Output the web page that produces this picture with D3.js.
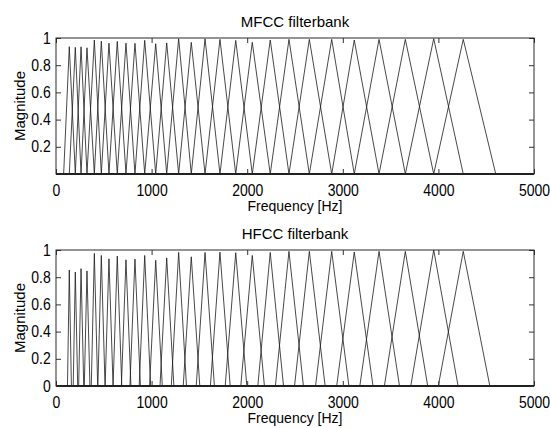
<!DOCTYPE html>
<html>
<head>
<meta charset="utf-8">
<script src="https://cdn.jsdelivr.net/npm/d3@7"></script>
<style>
    body { margin: 0; background: #fff; }
    text { font-family: "Liberation Sans", Arial, sans-serif; fill: #000; }
</style>
</head>
<body>
<div id="chart"></div>
<script>
const freqTicks = [0, 1000, 2000, 3000, 4000, 5000];
const magTicksTop = [0.2, 0.4, 0.6, 0.8, 1];
const magTicksBottom = [0, 0.2, 0.4, 0.6, 0.8, 1];

// peak (centre) frequency of each triangular filter, Hz
const centerFreqs = [139, 202, 262, 324, 401, 474, 554, 641, 732, 826, 928, 1043, 1158, 1283,
    1415, 1559, 1715, 1880, 2053, 2241, 2437, 2650, 2884, 3120, 3379, 3654, 3951, 4260];

// MFCC: feet of each filter and its sampled peak height
const mfccLow = [80, 139, 202, 262, 324, 401, 474, 554, 641, 732, 826, 928, 1043, 1158,
    1283, 1415, 1559, 1715, 1880, 2053, 2241, 2437, 2650, 2884, 3120, 3379, 3654, 3951];
const mfccHigh = [202, 262, 324, 401, 474, 554, 641, 732, 826, 928, 1043, 1158, 1283, 1415,
    1559, 1715, 1880, 2053, 2241, 2437, 2650, 2884, 3120, 3379, 3654, 3951, 4260, 4600];
const mfccPeak = [0.936, 0.931, 0.935, 0.928, 0.985, 0.977, 0.962, 0.975, 0.962, 0.961, 0.983, 0.958, 0.964, 0.995,
    0.968, 0.994, 0.99, 0.982, 0.968, 0.985, 0.99, 0.99, 0.99, 0.985, 0.99, 0.99, 0.995, 0.99];

// HFCC: narrower (ERB wide) filters on the same centres
const hfccLow = [120, 180, 237, 296, 369, 438, 514, 597, 684, 773, 870, 979, 1088, 1206,
    1331, 1467, 1615, 1770, 1933, 2111, 2295, 2495, 2715, 2936, 3178, 3435, 3711, 3999];
const hfccHigh = [161, 227, 290, 355, 436, 513, 597, 688, 784, 883, 990, 1112, 1233, 1365,
    1504, 1657, 1822, 1996, 2180, 2380, 2588, 2815, 3064, 3316, 3593, 3888, 4206, 4538];
const hfccPeak = [0.853, 0.838, 0.863, 0.846, 0.975, 0.96, 0.935, 0.955, 0.928, 0.933, 0.96, 0.924, 0.942, 0.982,
    0.95, 0.982, 0.984, 0.98, 0.96, 0.982, 0.99, 0.99, 0.99, 0.985, 0.99, 0.99, 1.0, 0.99];

const svg = d3.select("#chart").append("svg")
    .attr("width", 550)
    .attr("height", 428);

function drawPanel(top, title, low, high, peaks, magTicks) {
    const left = 56, width = 478, height = 136;

    const x = d3.scaleLinear().domain([0, 5000]).range([0, width]);
    const y = d3.scaleLinear().domain([0, 1]).range([height, 0]);

    const g = svg.append("g")
        .attr("transform", `translate(${left}, ${top})`);

    // filters, each one plotted across the whole frequency range
    const line = d3.line()
        .x(d => x(d[0]))
        .y(d => y(d[1]));

    centerFreqs.forEach((fc, i) => {
        const pts = [[0, 0], [low[i], 0], [fc, peaks[i]], [high[i], 0], [5000, 0]];
        g.append("path")
            .datum(pts)
            .attr("fill", "none")
            .attr("stroke", "#1a1a1a")
            .attr("stroke-width", 0.8)
            .attr("d", line);
    });

    // ticks inside the box, matlab style
    const fmt = d3.format("~g");
    const xAxis = g.append("g")
        .attr("transform", `translate(0, ${height})`)
        .call(d3.axisBottom(x).tickValues(freqTicks).tickSize(-5).tickPadding(11).tickFormat(fmt));
    const xTop = g.append("g")
        .call(d3.axisTop(x).tickValues(freqTicks).tickSize(-5).tickFormat(""));
    const yAxis = g.append("g")
        .call(d3.axisLeft(y).tickValues(magTicks).tickSize(-5).tickPadding(6).tickFormat(fmt));
    const yRight = g.append("g")
        .attr("transform", `translate(${width}, 0)`)
        .call(d3.axisRight(y).tickValues(magTicks).tickSize(-5).tickFormat(""));

    [xAxis, xTop, yAxis, yRight].forEach(a => {
        a.select(".domain").remove();
        a.selectAll("line").attr("stroke", "#333");
        // tick labels in the original are tall and narrow
        a.selectAll("text").style("font-size", "16px").attr("fill", "#000")
            .style("font-family", "'Liberation Sans', Arial, sans-serif")
            .attr("transform", "scale(0.875, 1)");
    });

    g.append("rect")
        .attr("x", 0)
        .attr("y", 0)
        .attr("width", width)
        .attr("height", height)
        .attr("fill", "none")
        .attr("stroke", "#2a2a2a")
        .attr("stroke-width", 1);

    g.append("text")
        .attr("x", width / 2)
        .attr("y", -11)
        .style("text-anchor", "middle")
        .style("font-size", "15px")
        .text(title);

    g.append("text")
        .attr("x", width / 2)
        .attr("y", height + 37)
        .style("text-anchor", "middle")
        .style("font-size", "14px")
        .text("Frequency [Hz]");

    g.append("text")
        .attr("transform", `translate(${25 - left}, ${height / 2}) rotate(-90)`)
        .style("text-anchor", "middle")
        .style("font-size", "15px")
        .text("Magnitude");
}

drawPanel(38, "MFCC filterbank", mfccLow, mfccHigh, mfccPeak, magTicksTop);
drawPanel(250, "HFCC filterbank", hfccLow, hfccHigh, hfccPeak, magTicksBottom);
</script>
</body>
</html>
